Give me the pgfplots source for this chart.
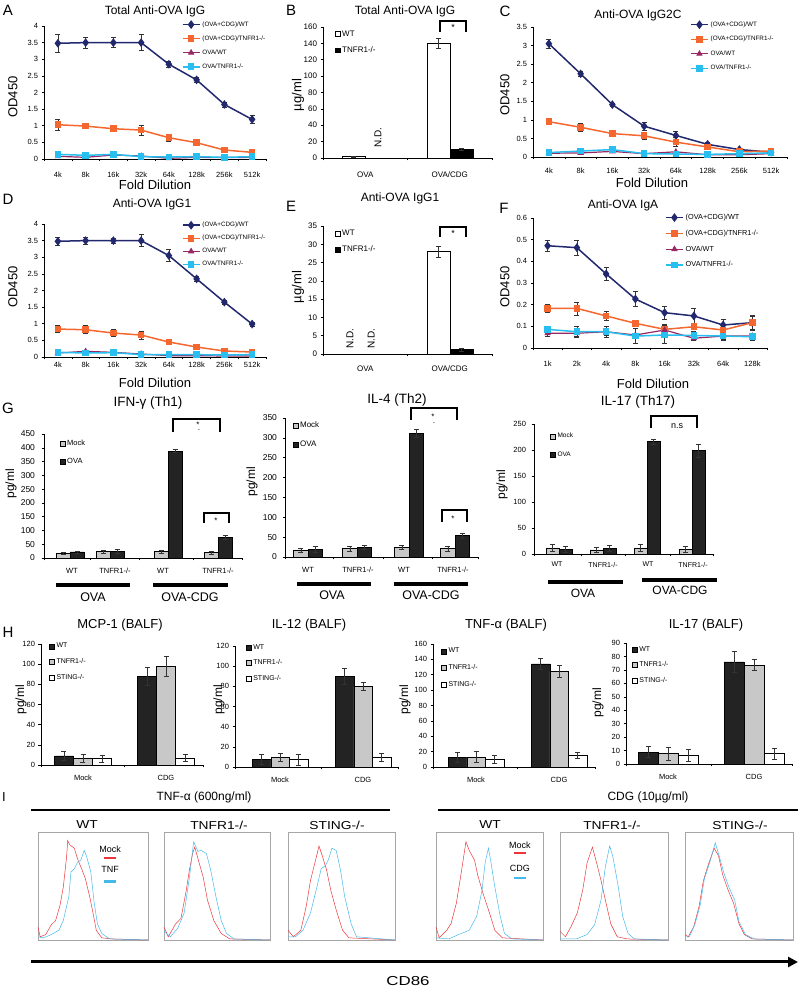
\documentclass[border=0pt]{standalone}
\usepackage{fontspec}
\setmainfont{Liberation Sans}
\usepackage{pgfplots}
\pgfplotsset{compat=1.18}
\usetikzlibrary{arrows.meta}
\newcommand{\fs}[1]{\fontsize{#1}{#1}\selectfont}
\newcommand{\txt}[4][]{\node[#1] at (#2pt,{989pt-#3pt}) {#4};}
\newcommand{\gbar}[3]{\fill[black] (#1pt,{989pt-#3pt-1.7pt}) rectangle (#2pt,{989pt-#3pt+1.7pt});}
\definecolor{navy}{RGB}{33,40,110}
\definecolor{orng}{RGB}{244,104,48}
\definecolor{plum}{RGB}{150,40,100}
\definecolor{cyn}{RGB}{40,190,240}
\definecolor{dkbar}{RGB}{35,35,35}
\definecolor{ltbar}{RGB}{200,200,200}
\definecolor{hred}{RGB}{235,55,60}
\definecolor{hcyan}{RGB}{70,185,235}
\pgfplotsset{
  base/.style={scale only axis, axis x line*=bottom, axis y line*=left,
    tick align=outside, enlargelimits=false, clip=false,
    /pgf/number format/assume math mode=true,
    axis line style={black, line width=0.5pt},
    tick style={black, line width=0.5pt},
    major tick length=2.5pt, minor tick length=2.5pt,
    ytick pos=left, xtick pos=bottom, legend cell align=left},
  linechart/.style={base, xmin=0.5, xmax=8.5, ymin=0, xtick={1,...,8},
    major x tick style={draw=none}, minor xtick={0.5,1.5,...,8.5},
    yticklabel style={font=\fs{7.5}}, xticklabel style={font=\fs{7.5}},
    legend style={draw=none, fill=none, font=\fs{6.3}, inner sep=0pt, anchor=north west}},
  barbase/.style={base, ymin=0, ybar=0pt, major x tick style={draw=none},
    yticklabel style={font=\fs{8}}, xticklabel style={font=\fs{8}},
    legend style={draw=none, fill=none, font=\fs{7.5}, inner sep=0pt, anchor=north west},
    legend image code/.code={\draw[##1, draw=black, line width=0.4pt] (0pt,-2.4pt) rectangle (4.8pt,2.4pt);}},
  eb/.style={error bars/y dir=both, error bars/y explicit,
    error bars/error bar style={black!80, line width=0.5pt},
    error bars/error mark options={rotate=90, black!80, mark size=2.5pt, line width=0.5pt}},
  sWT/.style={navy, line width=1.5pt, mark=diamond*, mark size=3.2pt},
  sTN/.style={orng, line width=1.5pt, mark=square*, mark size=2.6pt},
  sOW/.style={plum, line width=1.2pt, mark=triangle*, mark size=2.6pt},
  sOT/.style={cyn, line width=1.5pt, mark=square*, mark size=2.6pt},
  hist/.style={scale only axis, height=108pt, xmin=0, xmax=100, ymin=0, ymax=100,
    ticks=none, axis line style={gray!70, line width=0.6pt}, clip=false},
  hr/.style={hred, line width=0.5pt},
  hc/.style={hcyan, line width=0.5pt},
}
\begin{document}
\begin{tikzpicture}
\useasboundingbox (0,0) rectangle (800pt,989pt);
% ---------------- A ----------------
\begin{axis}[linechart, at={(44pt,830pt)}, anchor=south west, width=222pt, height=133pt,
  ymax=4, ytick={0,0.5,1,1.5,2,2.5,3,3.5,4},
  xticklabels={4k,8k,16k,32k,64k,128k,256k,512k}, xticklabel style={yshift=-7pt},
  legend style={at={(0.62,1.05)}, row sep=4pt}]
\addplot[sWT, eb] coordinates {(1,3.48)+-(0,0.28) (2,3.50)+-(0,0.17) (3,3.50)+-(0,0.15) (4,3.50)+-(0,0.24) (5,2.85)+-(0,0.08) (6,2.38)+-(0,0.07) (7,1.64)+-(0,0.08) (8,1.19)+-(0,0.13)};
\addlegendentry{(OVA+CDG)/WT}
\addplot[sTN, eb] coordinates {(1,1.03)+-(0,0.17) (2,0.99)+-(0,0.06) (3,0.91)+-(0,0.09) (4,0.87)+-(0,0.15) (5,0.64)+-(0,0.11) (6,0.49)+-(0,0.06) (7,0.27)+-(0,0.05) (8,0.20)+-(0,0.03)};
\addlegendentry{(OVA+CDG)/TNFR1-/-}
\addplot[sOW, eb] coordinates {(1,0.08)+-(0,0.03) (2,0.05)+-(0,0.03) (3,0.12)+-(0,0.03) (4,0.09)+-(0,0.03) (5,0.02)+-(0,0.02) (6,0.05)+-(0,0.02) (7,0.04)+-(0,0.02) (8,0.05)+-(0,0.02)};
\addlegendentry{OVA/WT}
\addplot[sOT, eb] coordinates {(1,0.14)+-(0,0.03) (2,0.11)+-(0,0.03) (3,0.14)+-(0,0.03) (4,0.07)+-(0,0.03) (5,0.06)+-(0,0.02) (6,0.07)+-(0,0.02) (7,0.05)+-(0,0.02) (8,0.07)+-(0,0.02)};
\addlegendentry{OVA/TNFR1-/-}
\end{axis}
% ---------------- B ----------------
\begin{axis}[barbase, at={(323pt,831pt)}, anchor=south west, width=169pt, height=131pt,
  xmin=0, xmax=2, ymax=160, ytick={0,20,...,160}, bar width=23pt,
  xtick={0.5,1.5}, xticklabels={OVA,OVA/CDG}, minor xtick={0,1,2}, xticklabel style={yshift=-8pt},
  legend style={at={(0.07,0.99)}, row sep=5pt, font=\fs{8}}]
\addplot[fill=white, draw=black, line width=0.5pt, eb] coordinates {(0.5,2)+-(0,0.6) (1.5,140)+-(0,6)};
\addlegendentry{WT}
\addplot[fill=black, draw=black, line width=0.5pt, eb] coordinates {(1.5,11)+-(0,1)};
\addlegendentry{TNFR1-/-}
\node[rotate=90, anchor=west, font=\fs{10}] at (axis cs:0.65,8) {N.D.};
\draw[line width=2pt] (axis cs:1.385,154) -- (axis cs:1.385,167) -- (axis cs:1.69,167) -- (axis cs:1.69,154);
\node[font=\fs{9}] at (axis cs:1.54,159) {*};
\end{axis}
% ---------------- C ----------------
\begin{axis}[linechart, at={(533pt,832pt)}, anchor=south west, width=254pt, height=130pt,
  ymax=3.5, ytick={0,0.5,1,1.5,2,2.5,3,3.5},
  xticklabels={4k,8k,16k,32k,64k,128k,256k,512k}, xticklabel style={yshift=-5pt},
  legend style={at={(0.618,1.058)}, row sep=4.5pt}]
\addplot[sWT, eb] coordinates {(1,3.05)+-(0,0.12) (2,2.24)+-(0,0.06) (3,1.41)+-(0,0.05) (4,0.83)+-(0,0.10) (5,0.58)+-(0,0.12) (6,0.34)+-(0,0.05) (7,0.20)+-(0,0.03) (8,0.13)+-(0,0.02)};
\addlegendentry{(OVA+CDG)/WT}
\addplot[sTN, eb] coordinates {(1,0.95)+-(0,0.07) (2,0.80)+-(0,0.10) (3,0.63)+-(0,0.05) (4,0.57)+-(0,0.08) (5,0.40)+-(0,0.12) (6,0.27)+-(0,0.05) (7,0.14)+-(0,0.02) (8,0.16)+-(0,0.02)};
\addlegendentry{(OVA+CDG)/TNFR1-/-}
\addplot[sOW, eb] coordinates {(1,0.10)+-(0,0.02) (2,0.11)+-(0,0.03) (3,0.15)+-(0,0.03) (4,0.09)+-(0,0.02) (5,0.14)+-(0,0.02) (6,0.06)+-(0,0.02) (7,0.06)+-(0,0.02) (8,0.09)+-(0,0.02)};
\addlegendentry{OVA/WT}
\addplot[sOT, eb] coordinates {(1,0.12)+-(0,0.02) (2,0.16)+-(0,0.03) (3,0.20)+-(0,0.03) (4,0.09)+-(0,0.02) (5,0.08)+-(0,0.02) (6,0.07)+-(0,0.02) (7,0.09)+-(0,0.02) (8,0.11)+-(0,0.02)};
\addlegendentry{OVA/TNFR1-/-}
\end{axis}
% ---------------- D ----------------
\begin{axis}[linechart, at={(44pt,632pt)}, anchor=south west, width=222pt, height=133pt,
  ymax=4, ytick={0,0.5,1,1.5,2,2.5,3,3.5,4},
  xticklabels={4k,8k,16k,32k,64k,128k,256k,512k}, xticklabel style={yshift=1pt},
  legend style={at={(0.62,1.03)}, row sep=3pt}]
\addplot[sWT, eb] coordinates {(1,3.48)+-(0,0.12) (2,3.50)+-(0,0.10) (3,3.50)+-(0,0.08) (4,3.50)+-(0,0.18) (5,3.05)+-(0,0.18) (6,2.35)+-(0,0.07) (7,1.65)+-(0,0.06) (8,0.99)+-(0,0.06)};
\addlegendentry{(OVA+CDG)/WT}
\addplot[sTN, eb] coordinates {(1,0.84)+-(0,0.10) (2,0.82)+-(0,0.12) (3,0.72)+-(0,0.10) (4,0.66)+-(0,0.12) (5,0.45)+-(0,0.08) (6,0.30)+-(0,0.08) (7,0.18)+-(0,0.05) (8,0.15)+-(0,0.03)};
\addlegendentry{(OVA+CDG)/TNFR1-/-}
\addplot[sOW, eb] coordinates {(1,0.12)+-(0,0.03) (2,0.17)+-(0,0.04) (3,0.14)+-(0,0.03) (4,0.09)+-(0,0.03) (5,0.04)+-(0,0.02) (6,0.04)+-(0,0.02) (7,0.03)+-(0,0.02) (8,0.03)+-(0,0.02)};
\addlegendentry{OVA/WT}
\addplot[sOT, eb] coordinates {(1,0.14)+-(0,0.03) (2,0.12)+-(0,0.03) (3,0.13)+-(0,0.03) (4,0.07)+-(0,0.03) (5,0.07)+-(0,0.02) (6,0.07)+-(0,0.02) (7,0.06)+-(0,0.02) (8,0.07)+-(0,0.02)};
\addlegendentry{OVA/TNFR1-/-}
\end{axis}
% ---------------- E ----------------
\begin{axis}[barbase, at={(323pt,635pt)}, anchor=south west, width=169pt, height=128pt,
  xmin=0, xmax=2, ymax=35, ytick={0,5,...,35}, bar width=23pt,
  xtick={0.5,1.5}, xticklabels={OVA,OVA/CDG}, minor xtick={0,1,2}, xticklabel style={yshift=-6pt},
  legend style={at={(0.07,0.985)}, row sep=5pt, font=\fs{8}}]
\addplot[fill=white, draw=black, line width=0.5pt, eb] coordinates {(1.5,28)+-(0,1.5)};
\addlegendentry{WT}
\addplot[fill=black, draw=black, line width=0.5pt, eb] coordinates {(1.5,1.2)+-(0,0.4)};
\addlegendentry{TNFR1-/-}
\node[rotate=90, anchor=west, font=\fs{10}] at (axis cs:0.32,0.5) {N.D.};
\node[rotate=90, anchor=west, font=\fs{10}] at (axis cs:0.57,0.5) {N.D.};
\draw[line width=2pt] (axis cs:1.385,32) -- (axis cs:1.385,34.7) -- (axis cs:1.69,34.7) -- (axis cs:1.69,32);
\node[font=\fs{9}] at (axis cs:1.54,33) {*};
\end{axis}
% ---------------- F ----------------
\begin{axis}[linechart, at={(533pt,641pt)}, anchor=south west, width=234pt, height=130pt,
  ymax=0.6, ytick={0,0.1,0.2,0.3,0.4,0.5,0.6},
  xticklabels={1k,2k,4k,8k,16k,32k,64k,128k}, xticklabel style={yshift=-7pt},
  legend style={at={(0.564,1.046)}, row sep=5pt, font=\fs{7.3}}]
\addplot[sWT, eb] coordinates {(1,0.472)+-(0,0.025) (2,0.463)+-(0,0.035) (3,0.342)+-(0,0.030) (4,0.226)+-(0,0.035) (5,0.163)+-(0,0.030) (6,0.148)+-(0,0.035) (7,0.106)+-(0,0.025) (8,0.117)+-(0,0.030)};
\addlegendentry{(OVA+CDG)/WT}
\addplot[sTN, eb] coordinates {(1,0.183)+-(0,0.020) (2,0.183)+-(0,0.030) (3,0.148)+-(0,0.020) (4,0.114)+-(0,0.012) (5,0.086)+-(0,0.025) (6,0.098)+-(0,0.012) (7,0.083)+-(0,0.020) (8,0.117)+-(0,0.035)};
\addlegendentry{(OVA+CDG)/TNFR1-/-}
\addplot[sOW, eb] coordinates {(1,0.068)+-(0,0.012) (2,0.068)+-(0,0.015) (3,0.075)+-(0,0.015) (4,0.060)+-(0,0.010) (5,0.083)+-(0,0.020) (6,0.045)+-(0,0.010) (7,0.055)+-(0,0.015) (8,0.055)+-(0,0.010)};
\addlegendentry{OVA/WT}
\addplot[sOT, eb] coordinates {(1,0.086)+-(0,0.015) (2,0.075)+-(0,0.025) (3,0.075)+-(0,0.025) (4,0.055)+-(0,0.035) (5,0.060)+-(0,0.040) (6,0.058)+-(0,0.020) (7,0.055)+-(0,0.020) (8,0.052)+-(0,0.015)};
\addlegendentry{OVA/TNFR1-/-}
\end{axis}
% ---------------- G: IFN ----------------
\begin{axis}[barbase, at={(44pt,431pt)}, anchor=south west, width=198pt, height=124pt,
  xmin=44, xmax=242, ymax=450, ytick={0,50,...,450}, bar width=14pt,
  xtick={72,115,163,218}, xticklabels={WT,TNFR1-/-,WT,TNFR1-/-}, minor xtick={44,90,139,193,242},
  yticklabel style={font=\fs{8.5}, xshift=-3pt}, xticklabel style={font=\fs{7.5}, yshift=-4pt},
  legend style={at={(0.08,0.97)}, row sep=7.5pt, font=\fs{7.5}}]
\addplot[fill=ltbar, draw=black, line width=0.5pt, eb] coordinates {(70,18)+-(0,4) (110,24)+-(0,5) (168,24)+-(0,5) (218,20)+-(0,5)};
\addlegendentry{Mock}
\addplot[fill=dkbar, draw=black, line width=0.5pt, eb] coordinates {(70,22)+-(0,4) (110,24)+-(0,6) (168,388)+-(0,5) (218,75)+-(0,6)};
\addlegendentry{OVA}
\draw[line width=2pt] (axis cs:173,457) -- (axis cs:173,504) -- (axis cs:220,504) -- (axis cs:220,457);
\node[font=\fs{8}] at (axis cs:198,484) {*};
\node[font=\fs{8}] at (axis cs:199,465) {.};
\draw[line width=2pt] (axis cs:204,127) -- (axis cs:204,163) -- (axis cs:229,163) -- (axis cs:229,127);
\node[font=\fs{8}] at (axis cs:216,136) {*};
\end{axis}
% ---------------- G: IL-4 ----------------
\begin{axis}[barbase, at={(285pt,432pt)}, anchor=south west, width=193pt, height=139pt,
  xmin=285, xmax=478, ymax=350, ytick={0,50,...,350}, bar width=14.5pt,
  xtick={308,358,404,453}, xticklabels={WT,TNFR1-/-,WT,TNFR1-/-}, minor xtick={285,333,383,432,478},
  yticklabel style={font=\fs{8.5}, xshift=-2pt}, xticklabel style={font=\fs{7.5}, yshift=-4pt},
  legend style={at={(0.04,0.986)}, row sep=7.5pt, font=\fs{8}}]
\addplot[fill=ltbar, draw=black, line width=0.5pt, eb] coordinates {(308,18)+-(0,5) (357,21)+-(0,6) (409,24)+-(0,5) (455,21)+-(0,7)};
\addlegendentry{Mock}
\addplot[fill=dkbar, draw=black, line width=0.5pt, eb] coordinates {(308,20)+-(0,7) (357,25)+-(0,5) (409,312)+-(0,10) (455,54)+-(0,6)};
\addlegendentry{OVA}
\draw[line width=2pt] (axis cs:411,345) -- (axis cs:411,375) -- (axis cs:457,375) -- (axis cs:457,345);
\node[font=\fs{8}] at (axis cs:433,354) {*};
\node[font=\fs{8}] at (axis cs:434,338) {.};
\draw[line width=2pt] (axis cs:442,88) -- (axis cs:442,118) -- (axis cs:467,118) -- (axis cs:467,88);
\node[font=\fs{8}] at (axis cs:453,96) {*};
\end{axis}
% ---------------- G: IL-17 ----------------
\begin{axis}[barbase, at={(534pt,435pt)}, anchor=south west, width=179pt, height=130pt,
  xmin=534, xmax=713, ymax=250, ytick={0,50,...,250}, bar width=13pt,
  xtick={557,603,648,693}, xticklabels={WT,TNFR1-/-,WT,TNFR1-/-}, minor xtick={534,581,625,670,713},
  yticklabel style={font=\fs{7.5}, xshift=-2pt}, xticklabel style={font=\fs{7}, yshift=-2pt},
  legend style={at={(0.09,0.946)}, row sep=8.5pt, font=\fs{6.5}}]
\addplot[fill=ltbar, draw=black, line width=0.5pt, eb] coordinates {(559,12)+-(0,7) (603,8)+-(0,5) (647,12)+-(0,7) (692,9)+-(0,5)};
\addlegendentry{Mock}
\addplot[fill=dkbar, draw=black, line width=0.5pt, eb] coordinates {(559,9)+-(0,5) (603,11)+-(0,6) (647,216)+-(0,5) (692,199)+-(0,13)};
\addlegendentry{OVA}
\draw[line width=2pt] (axis cs:651,242) -- (axis cs:651,265) -- (axis cs:697,265) -- (axis cs:697,242);
\node[font=\fs{9}] at (axis cs:677,246) {n.s};
\end{axis}
% ---------------- H: MCP-1 ----------------
\begin{axis}[barbase, at={(41pt,224pt)}, anchor=south west, width=162pt, height=121pt,
  xmin=41, xmax=203, ymax=120, ytick={0,20,...,120}, bar width=19pt,
  xtick={83,166}, xticklabels={Mock,CDG}, minor xtick={41,124.5,203},
  yticklabel style={font=\fs{7.5}}, xticklabel style={font=\fs{7.5}, yshift=-4pt},
  legend style={at={(0.05,1.025)}, row sep=5pt, font=\fs{7}}]
\addplot[fill=dkbar, draw=black, line width=0.5pt, eb] coordinates {(83,9)+-(0,4.5) (166,88)+-(0,9)};
\addlegendentry{WT}
\addplot[fill=ltbar, draw=black, line width=0.5pt, eb] coordinates {(83,7)+-(0,4) (166,98)+-(0,10)};
\addlegendentry{TNFR1-/-}
\addplot[fill=white, draw=black, line width=0.5pt, eb] coordinates {(83,6.5)+-(0,3.5) (166,7)+-(0,3.5)};
\addlegendentry{STING-/-}
\end{axis}
% ---------------- H: IL-12 ----------------
\begin{axis}[barbase, at={(235pt,222pt)}, anchor=south west, width=163pt, height=121pt,
  xmin=235, xmax=398, ymax=120, ytick={0,20,...,120}, bar width=18.5pt,
  xtick={280,363}, xticklabels={Mock,CDG}, minor xtick={235,321.5,398},
  yticklabel style={font=\fs{7.5}}, xticklabel style={font=\fs{7.5}, yshift=-4pt},
  legend style={at={(0.067,1.033)}, row sep=5pt, font=\fs{7}}]
\addplot[fill=dkbar, draw=black, line width=0.5pt, eb] coordinates {(280,7.6)+-(0,5) (363,90)+-(0,8)};
\addlegendentry{WT}
\addplot[fill=ltbar, draw=black, line width=0.5pt, eb] coordinates {(280,9.3)+-(0,4) (363,80)+-(0,4)};
\addlegendentry{TNFR1-/-}
\addplot[fill=white, draw=black, line width=0.5pt, eb] coordinates {(280,7.3)+-(0,5.5) (363,9.3)+-(0,4)};
\addlegendentry{STING-/-}
\end{axis}
% ---------------- H: TNF ----------------
\begin{axis}[barbase, at={(433pt,222pt)}, anchor=south west, width=162pt, height=123pt,
  xmin=433, xmax=595, ymax=160, ytick={0,20,...,160}, bar width=18.5pt,
  xtick={476,559}, xticklabels={Mock,CDG}, minor xtick={433,517.5,595},
  yticklabel style={font=\fs{7.5}}, xticklabel style={font=\fs{7.5}, yshift=-4pt},
  legend style={at={(0.05,0.984)}, row sep=6pt, font=\fs{7}}]
\addplot[fill=dkbar, draw=black, line width=0.5pt, eb] coordinates {(476,12.6)+-(0,6) (559,134)+-(0,7)};
\addlegendentry{WT}
\addplot[fill=ltbar, draw=black, line width=0.5pt, eb] coordinates {(476,13)+-(0,7) (559,124.5)+-(0,8)};
\addlegendentry{TNFR1-/-}
\addplot[fill=white, draw=black, line width=0.5pt, eb] coordinates {(476,10.4)+-(0,5) (559,15)+-(0,4)};
\addlegendentry{STING-/-}
\end{axis}
% ---------------- H: IL-17 ----------------
\begin{axis}[barbase, at={(626pt,225pt)}, anchor=south west, width=166pt, height=121pt,
  xmin=626, xmax=792, ymax=90, ytick={0,10,...,90}, bar width=20pt,
  xtick={668,754}, xticklabels={Mock,CDG}, minor xtick={626,711,792},
  yticklabel style={font=\fs{7.5}}, xticklabel style={font=\fs{7.5}, yshift=-4pt},
  legend style={at={(0.036,0.99)}, row sep=5pt, font=\fs{7}}]
\addplot[fill=dkbar, draw=black, line width=0.5pt, eb] coordinates {(668,8.9)+-(0,4) (754,75.9)+-(0,8)};
\addlegendentry{WT}
\addplot[fill=ltbar, draw=black, line width=0.5pt, eb] coordinates {(668,7.7)+-(0,5) (754,73.6)+-(0,4)};
\addlegendentry{TNFR1-/-}
\addplot[fill=white, draw=black, line width=0.5pt, eb] coordinates {(668,6.4)+-(0,4.5) (754,7.9)+-(0,4)};
\addlegendentry{STING-/-}
\end{axis}
% ---------------- I: histograms ----------------
\begin{axis}[hist, at={(38pt,49pt)}, anchor=south west, width=110pt]
\addplot[hr] coordinates {(0,12)(2,3)(7,5)(12,14)(16,18)(20,32)(23,49)(26,77)(27,92)(29,88)(33,85)(36,75)(40,65)(43,57)(47,40)(50,25)(53,9)(58,2)(67,1)(100,0)};
\addplot[hc] coordinates {(0,3)(5,2)(12,5)(19,9)(23,18)(28,40)(30,63)(33,66)(36,72)(39,74)(42,83)(44,78)(48,63)(51,35)(54,15)(58,6)(65,1)(100,0)};
\node[font=\fs{9}] at (axis cs:65.5,84) {Mock};
\draw[hred, line width=2.5pt] (axis cs:60,76) -- (axis cs:71,76);
\node[font=\fs{9}] at (axis cs:65.5,65) {TNF};
\draw[hcyan, line width=2.5pt] (axis cs:60,54) -- (axis cs:71,54);
\end{axis}
\begin{axis}[hist, at={(164pt,49pt)}, anchor=south west, width=106pt]
\addplot[hr] coordinates {(0,12)(4,3)(11,15)(16,20)(21,46)(24,65)(27,80)(29,86)(33,72)(37,58)(41,37)(47,18)(54,6)(62,1)(100,0)};
\addplot[hc] coordinates {(0,8)(6,3)(13,11)(19,25)(24,58)(28,91)(32,82)(35,83)(40,80)(44,65)(49,40)(54,18)(59,6)(66,1)(100,0)};
\end{axis}
\begin{axis}[hist, at={(288pt,49pt)}, anchor=south west, width=107pt]
\addplot[hr] coordinates {(0,9)(5,3)(12,9)(17,31)(21,55)(25,71)(29,87)(32,78)(36,65)(40,46)(45,28)(51,9)(57,2)(100,0)};
\addplot[hc] coordinates {(0,3)(7,3)(14,9)(21,25)(27,49)(31,66)(35,69)(38,75)(41,85)(45,83)(49,65)(53,40)(59,15)(64,3)(100,0)};
\end{axis}
\begin{axis}[hist, at={(436pt,49pt)}, anchor=south west, width=107pt]
\addplot[hr] coordinates {(0,12)(3,2)(10,9)(14,15)(19,34)(24,65)(28,91)(31,83)(36,74)(39,60)(44,43)(50,25)(55,9)(62,2)(100,0)};
\addplot[hc] coordinates {(0,2)(12,1)(21,5)(31,9)(38,22)(43,46)(46,72)(49,85)(51,74)(55,49)(60,22)(64,6)(71,1)(100,0)};
\node[font=\fs{9}] at (axis cs:78.5,88) {Mock};
\draw[hred, line width=2.5pt] (axis cs:73,80.5) -- (axis cs:84,80.5);
\node[font=\fs{9}] at (axis cs:78.5,66.7) {CDG};
\draw[hcyan, line width=2.5pt] (axis cs:73,57.4) -- (axis cs:84,57.4);
\end{axis}
\begin{axis}[hist, at={(560pt,49pt)}, anchor=south west, width=108pt]
\addplot[hr] coordinates {(0,8)(5,3)(10,12)(16,25)(21,46)(25,71)(30,86)(34,71)(38,55)(42,37)(47,15)(53,3)(62,1)(100,0)};
\addplot[hc] coordinates {(0,1)(15,1)(25,5)(32,14)(38,37)(42,68)(46,87)(49,77)(54,49)(58,22)(63,6)(69,1)(100,0)};
\end{axis}
\begin{axis}[hist, at={(685pt,49pt)}, anchor=south west, width=108pt]
\addplot[hr] coordinates {(0,5)(3,3)(8,12)(13,31)(17,55)(22,71)(27,85)(31,78)(35,60)(40,46)(45,34)(50,15)(55,5)(62,1)(100,0)};
\addplot[hc] coordinates {(0,3)(4,3)(9,14)(14,32)(18,57)(23,72)(28,90)(31,80)(36,62)(41,48)(46,37)(50,17)(56,5)(64,1)(100,0)};
\end{axis}
% ---------------- texts ----------------
% A
\txt[font=\fs{15}]{8}{10}{A}
\txt[font=\fs{12}]{155}{11}{Total Anti-OVA IgG}
\txt[font=\fs{13}, rotate=90]{13}{97}{OD450}
\txt[font=\fs{13}]{155}{185}{Fold Dilution}
% B
\txt[font=\fs{15}]{291}{10}{B}
\txt[font=\fs{12}]{405}{11}{Total Anti-OVA IgG}
\txt[font=\fs{13}, rotate=90]{298}{95}{µg/ml}
% C
\txt[font=\fs{15}]{505}{11}{C}
\txt[font=\fs{12}]{638}{15}{Anti-OVA IgG2C}
\txt[font=\fs{13}, rotate=90]{505}{95}{OD450}
\txt[font=\fs{13}]{652}{183}{Fold Dilution}
% D
\txt[font=\fs{15}]{8}{199}{D}
\txt[font=\fs{12}]{152}{204}{Anti-OVA IgG1}
\txt[font=\fs{13}, rotate=90]{13}{287}{OD450}
\txt[font=\fs{13}]{155}{383}{Fold Dilution}
% E
\txt[font=\fs{15}]{291}{206}{E}
\txt[font=\fs{12}]{400}{198}{Anti-OVA IgG1}
\txt[font=\fs{13}, rotate=90]{298}{287}{µg/ml}
% F
\txt[font=\fs{15}]{504}{208}{F}
\txt[font=\fs{12}]{623}{205}{Anti-OVA IgA}
\txt[font=\fs{13}, rotate=90]{505}{287}{OD450}
\txt[font=\fs{13}]{653}{384}{Fold Dilution}
% G
\txt[font=\fs{15}]{8}{408}{G}
\txt[font=\fs{13.5}]{148}{403}{IFN-γ (Th1)}
\txt[font=\fs{12}, rotate=90]{11}{484}{pg/ml}
\gbar{56}{130}{585}\gbar{153}{228}{585}
\txt[font=\fs{12.5}]{93}{597}{OVA}
\txt[font=\fs{12.5}]{190}{597}{OVA-CDG}
\txt[font=\fs{13.5}]{397}{400}{IL-4 (Th2)}
\txt[font=\fs{12}, rotate=90]{252}{482}{pg/ml}
\gbar{297}{371}{584}\gbar{394}{468}{584}
\txt[font=\fs{12.5}]{332}{595}{OVA}
\txt[font=\fs{12.5}]{431}{595}{OVA-CDG}
\txt[font=\fs{13.5}]{638}{402}{IL-17 (Th17)}
\txt[font=\fs{12}, rotate=90]{502}{485}{pg/ml}
\gbar{548}{623}{582}\gbar{642}{717}{580}
\txt[font=\fs{12}]{583}{593}{OVA}
\txt[font=\fs{12}]{680}{590}{OVA-CDG}
% H
\txt[font=\fs{15}]{8}{632}{H}
\txt[font=\fs{13}]{120}{625}{MCP-1 (BALF)}
\txt[font=\fs{13}]{309}{625}{IL-12 (BALF)}
\txt[font=\fs{13}]{506}{625}{TNF-α (BALF)}
\txt[font=\fs{13}]{706}{625}{IL-17 (BALF)}
\txt[font=\fs{12}, rotate=90]{21}{700}{pg/ml}
\txt[font=\fs{12}, rotate=90]{219}{700}{pg/ml}
\txt[font=\fs{12}, rotate=90]{405}{700}{pg/ml}
\txt[font=\fs{12}, rotate=90]{598}{703}{pg/ml}
% I
\txt[font=\fs{13}]{4}{797}{I}
\txt[font=\fs{12}]{204}{797}{TNF-α (600ng/ml)}
\txt[font=\fs{12}]{648}{797}{CDG (10µg/ml)}
\draw[line width=2.5pt] (31pt,179pt) -- (390pt,179pt);
\draw[line width=2.5pt] (438pt,179pt) -- (798pt,179pt);
\txt[font=\fs{11.5}]{87}{825}{\scalebox{1.2}[1]{WT}}
\txt[font=\fs{11.5}]{219}{825}{\scalebox{1.2}[1]{TNFR1-/-}}
\txt[font=\fs{11.5}]{337}{825}{\scalebox{1.2}[1]{STING-/-}}
\txt[font=\fs{11.5}]{490}{825}{\scalebox{1.2}[1]{WT}}
\txt[font=\fs{11.5}]{612}{825}{\scalebox{1.2}[1]{TNFR1-/-}}
\txt[font=\fs{11.5}]{740}{825}{\scalebox{1.2}[1]{STING-/-}}
\draw[line width=3pt, -{Triangle[length=10pt,width=10pt]}] (31pt,27pt) -- (798pt,27pt);
\txt[font=\fs{13}]{408}{981}{\scalebox{1.3}[1]{CD86}}
\end{tikzpicture}
\end{document}
